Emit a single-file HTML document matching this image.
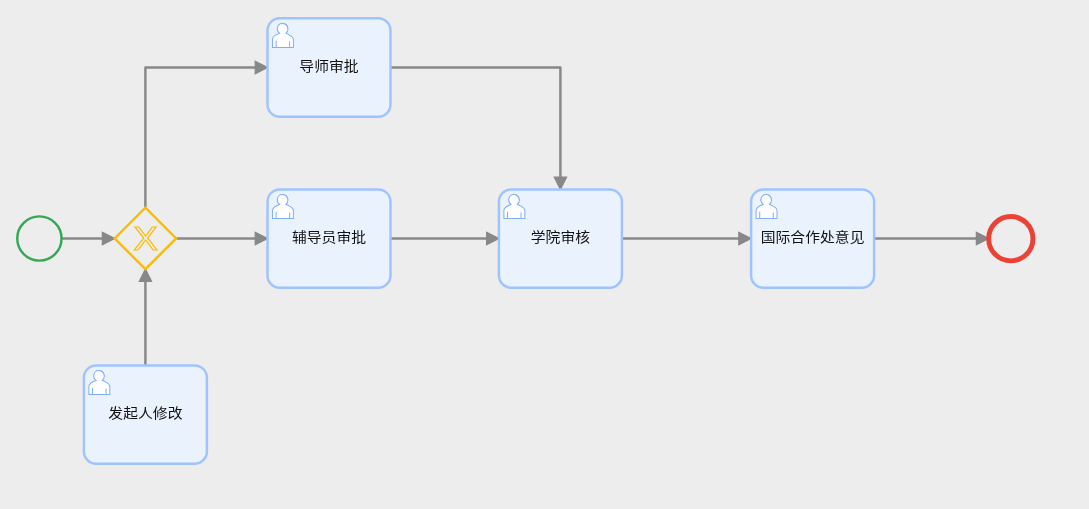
<!DOCTYPE html>
<html lang="zh-CN">
<head>
<meta charset="utf-8">
<title>流程图</title>
<style>
html,body{margin:0;padding:0;background:#ededed;overflow:hidden;}
body{width:1089px;height:509px;}
svg{display:block;will-change:transform;}
text{font-family:"Liberation Sans", "Noto Sans CJK SC", sans-serif;font-size:12px;letter-spacing:0px;font-weight:400;fill:#111111;}
text.gx{font-family:"Liberation Sans", sans-serif;font-size:28px;font-weight:400;letter-spacing:0;fill:#ededed;stroke:#fbbc05;stroke-width:1px;stroke-linejoin:miter;}
</style>
</head>
<body>
<svg width="1089" height="509" viewBox="0 0 1089 509">
<defs>
<marker id="arrow" viewBox="0 0 20 20" refX="11" refY="10" markerWidth="10" markerHeight="10" orient="auto">
<path d="M 1 5 L 11 10 L 1 15 Z" fill="#888888" stroke="#888888" stroke-width="1" stroke-linecap="round"/>
</marker>
<filter id="gray" x="-5%" y="-50%" width="110%" height="200%" color-interpolation-filters="sRGB"><feOffset dx="0" dy="0"/></filter>
</defs>
<rect x="0" y="0" width="1089" height="509" fill="#ededed"/>

<path d="M61.54,238.50 L114.65,238.50" fill="none" stroke="#888888" stroke-width="2.460" stroke-linejoin="round" marker-end="url(#arrow)"/>
<path d="M145.40,207.65 L145.40,67.50 L267.50,67.50" fill="none" stroke="#888888" stroke-width="2.460" stroke-linejoin="round" marker-end="url(#arrow)"/>
<path d="M176.15,238.50 L267.50,238.50" fill="none" stroke="#888888" stroke-width="2.460" stroke-linejoin="round" marker-end="url(#arrow)"/>
<path d="M390.50,67.50 L560.40,67.50 L560.40,189.40" fill="none" stroke="#888888" stroke-width="2.460" stroke-linejoin="round" marker-end="url(#arrow)"/>
<path d="M390.50,238.50 L498.90,238.50" fill="none" stroke="#888888" stroke-width="2.460" stroke-linejoin="round" marker-end="url(#arrow)"/>
<path d="M621.90,238.50 L751.10,238.50" fill="none" stroke="#888888" stroke-width="2.460" stroke-linejoin="round" marker-end="url(#arrow)"/>
<path d="M874.10,238.50 L988.66,238.50" fill="none" stroke="#888888" stroke-width="2.460" stroke-linejoin="round" marker-end="url(#arrow)"/>
<path d="M145.40,365.40 L145.40,269.15" fill="none" stroke="#888888" stroke-width="2.460" stroke-linejoin="round" marker-end="url(#arrow)"/>
<g transform="translate(17.26,216.36) scale(1.23)"><circle cx="18" cy="18" r="18" fill="#ededed" fill-opacity="0.95" stroke="#34a853" stroke-width="2"/></g>
<g transform="translate(988.66,216.56) scale(1.23)"><circle cx="18" cy="18" r="18" fill="#ededed" fill-opacity="0.95" stroke="#ea4335" stroke-width="4"/></g>
<g transform="translate(114.65,207.65) scale(1.23)"><polygon points="25,0 50,25 25,50 0,25" fill="#ededed" fill-opacity="0.95" stroke="#fbbc05" stroke-width="2"/><text class="gx" filter="url(#gray)" transform="translate(25.14,34.78) scale(1.05,0.975)" text-anchor="middle">X</text></g>
<g transform="translate(267.50,18.30) scale(1.23)"><rect x="0" y="0" width="100" height="80" rx="10" ry="10" fill="#eaf2fd" stroke="#a0c3ff" stroke-width="2"/><text filter="url(#gray)" transform="translate(50.0,43.0) scale(1.005,0.89)" text-anchor="middle">导师审批</text><path d="m 15,12 m -6.9,-3.80 c 0,0 2.25099998,-2.358 4.27399998,-1.177 2.024,1.181 4.221,1.537 4.124,0.965 -0.098,-0.57 -0.117,-3.79099999 -4.191,-4.13599999 -3.57499998,0.001 -4.20799998,3.36699999 -4.20699998,4.34799999 z" transform="translate(0,0.25)" fill="#ffffff" stroke="#80aefa" stroke-width="0.82"/><path d="m 15,12 c 0.909,-0.845 1.594,-2.049 1.594,-3.385 0,-2.554 -1.805,-4.62199999 -4.357,-4.62199999 -2.55199998,0 -4.28799998,2.06799999 -4.28799998,4.62199999 0,1.348 0.974,2.562 1.89599998,3.405 -0.52899998,0.187 -5.669,2.097 -5.794,4.7560005 v 6.718 h 17 v -6.718 c 0,-2.2980005 -5.5279996,-4.5950005 -6.0509996,-4.7760005 zm -8,6 l 0,5.5 m 11,0 l 0,-5" transform="translate(0,0.25)" fill="#ffffff" stroke="#80aefa" stroke-width="0.82"/></g>
<g transform="translate(267.50,189.40) scale(1.23)"><rect x="0" y="0" width="100" height="80" rx="10" ry="10" fill="#eaf2fd" stroke="#a0c3ff" stroke-width="2"/><text filter="url(#gray)" transform="translate(50.0,43.0) scale(1.005,0.89)" text-anchor="middle">辅导员审批</text><path d="m 15,12 m -6.9,-3.80 c 0,0 2.25099998,-2.358 4.27399998,-1.177 2.024,1.181 4.221,1.537 4.124,0.965 -0.098,-0.57 -0.117,-3.79099999 -4.191,-4.13599999 -3.57499998,0.001 -4.20799998,3.36699999 -4.20699998,4.34799999 z" transform="translate(0,0.25)" fill="#ffffff" stroke="#80aefa" stroke-width="0.82"/><path d="m 15,12 c 0.909,-0.845 1.594,-2.049 1.594,-3.385 0,-2.554 -1.805,-4.62199999 -4.357,-4.62199999 -2.55199998,0 -4.28799998,2.06799999 -4.28799998,4.62199999 0,1.348 0.974,2.562 1.89599998,3.405 -0.52899998,0.187 -5.669,2.097 -5.794,4.7560005 v 6.718 h 17 v -6.718 c 0,-2.2980005 -5.5279996,-4.5950005 -6.0509996,-4.7760005 zm -8,6 l 0,5.5 m 11,0 l 0,-5" transform="translate(0,0.25)" fill="#ffffff" stroke="#80aefa" stroke-width="0.82"/></g>
<g transform="translate(498.90,189.40) scale(1.23)"><rect x="0" y="0" width="100" height="80" rx="10" ry="10" fill="#eaf2fd" stroke="#a0c3ff" stroke-width="2"/><text filter="url(#gray)" transform="translate(50.0,43.0) scale(1.005,0.89)" text-anchor="middle">学院审核</text><path d="m 15,12 m -6.9,-3.80 c 0,0 2.25099998,-2.358 4.27399998,-1.177 2.024,1.181 4.221,1.537 4.124,0.965 -0.098,-0.57 -0.117,-3.79099999 -4.191,-4.13599999 -3.57499998,0.001 -4.20799998,3.36699999 -4.20699998,4.34799999 z" transform="translate(0,0.25)" fill="#ffffff" stroke="#80aefa" stroke-width="0.82"/><path d="m 15,12 c 0.909,-0.845 1.594,-2.049 1.594,-3.385 0,-2.554 -1.805,-4.62199999 -4.357,-4.62199999 -2.55199998,0 -4.28799998,2.06799999 -4.28799998,4.62199999 0,1.348 0.974,2.562 1.89599998,3.405 -0.52899998,0.187 -5.669,2.097 -5.794,4.7560005 v 6.718 h 17 v -6.718 c 0,-2.2980005 -5.5279996,-4.5950005 -6.0509996,-4.7760005 zm -8,6 l 0,5.5 m 11,0 l 0,-5" transform="translate(0,0.25)" fill="#ffffff" stroke="#80aefa" stroke-width="0.82"/></g>
<g transform="translate(751.10,189.40) scale(1.23)"><rect x="0" y="0" width="100" height="80" rx="10" ry="10" fill="#eaf2fd" stroke="#a0c3ff" stroke-width="2"/><text filter="url(#gray)" transform="translate(50.0,43.0) scale(1.005,0.89)" text-anchor="middle">国际合作处意见</text><path d="m 15,12 m -6.9,-3.80 c 0,0 2.25099998,-2.358 4.27399998,-1.177 2.024,1.181 4.221,1.537 4.124,0.965 -0.098,-0.57 -0.117,-3.79099999 -4.191,-4.13599999 -3.57499998,0.001 -4.20799998,3.36699999 -4.20699998,4.34799999 z" transform="translate(0,0.25)" fill="#ffffff" stroke="#80aefa" stroke-width="0.82"/><path d="m 15,12 c 0.909,-0.845 1.594,-2.049 1.594,-3.385 0,-2.554 -1.805,-4.62199999 -4.357,-4.62199999 -2.55199998,0 -4.28799998,2.06799999 -4.28799998,4.62199999 0,1.348 0.974,2.562 1.89599998,3.405 -0.52899998,0.187 -5.669,2.097 -5.794,4.7560005 v 6.718 h 17 v -6.718 c 0,-2.2980005 -5.5279996,-4.5950005 -6.0509996,-4.7760005 zm -8,6 l 0,5.5 m 11,0 l 0,-5" transform="translate(0,0.25)" fill="#ffffff" stroke="#80aefa" stroke-width="0.82"/></g>
<g transform="translate(83.90,365.40) scale(1.23)"><rect x="0" y="0" width="100" height="80" rx="10" ry="10" fill="#eaf2fd" stroke="#a0c3ff" stroke-width="2"/><text filter="url(#gray)" transform="translate(50.0,43.0) scale(1.005,0.89)" text-anchor="middle">发起人修改</text><path d="m 15,12 m -6.9,-3.80 c 0,0 2.25099998,-2.358 4.27399998,-1.177 2.024,1.181 4.221,1.537 4.124,0.965 -0.098,-0.57 -0.117,-3.79099999 -4.191,-4.13599999 -3.57499998,0.001 -4.20799998,3.36699999 -4.20699998,4.34799999 z" transform="translate(0,0.25)" fill="#ffffff" stroke="#80aefa" stroke-width="0.82"/><path d="m 15,12 c 0.909,-0.845 1.594,-2.049 1.594,-3.385 0,-2.554 -1.805,-4.62199999 -4.357,-4.62199999 -2.55199998,0 -4.28799998,2.06799999 -4.28799998,4.62199999 0,1.348 0.974,2.562 1.89599998,3.405 -0.52899998,0.187 -5.669,2.097 -5.794,4.7560005 v 6.718 h 17 v -6.718 c 0,-2.2980005 -5.5279996,-4.5950005 -6.0509996,-4.7760005 zm -8,6 l 0,5.5 m 11,0 l 0,-5" transform="translate(0,0.25)" fill="#ffffff" stroke="#80aefa" stroke-width="0.82"/></g>
</svg>
</body>
</html>
